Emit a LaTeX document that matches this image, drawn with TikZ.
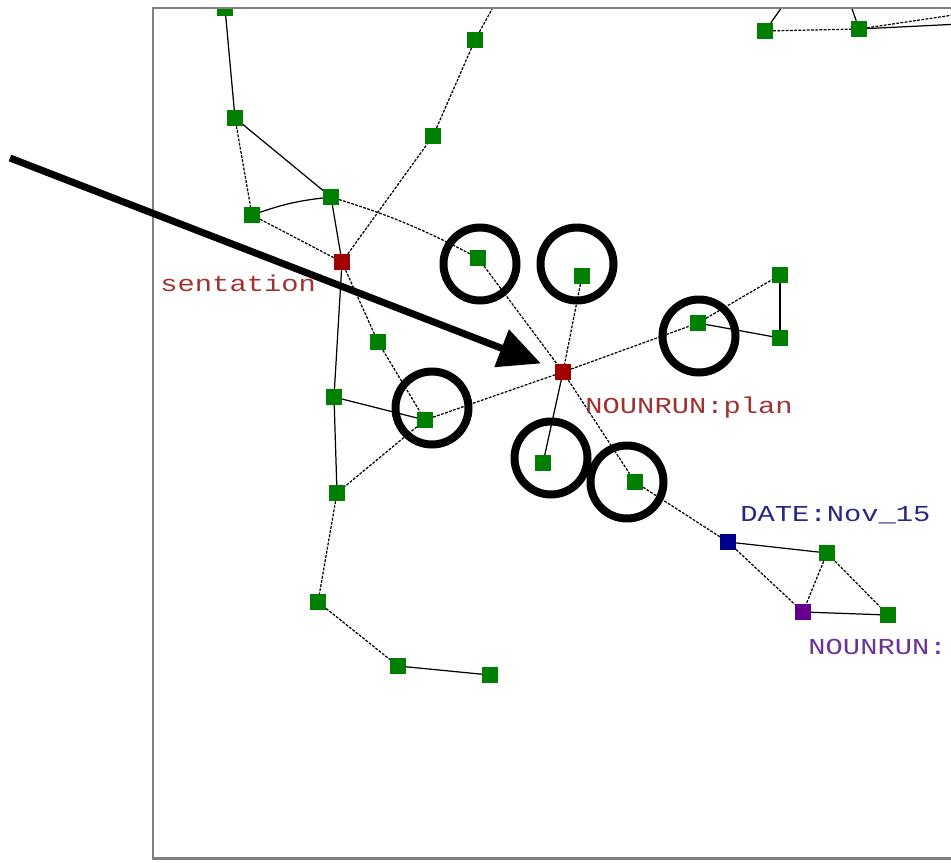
\documentclass[tikz,border=0pt]{standalone}
\usepackage{fontspec}
\setmonofont{Liberation Mono}
\usetikzlibrary{arrows.meta}
\definecolor{vgreen}{RGB}{0,128,0}
\definecolor{vred}{RGB}{160,0,0}
\definecolor{vblue}{RGB}{0,0,140}
\definecolor{vpurple}{RGB}{100,0,140}
\definecolor{tred}{RGB}{160,50,50}
\definecolor{tblue}{RGB}{40,40,130}
\definecolor{tpurple}{RGB}{110,50,150}

\begin{document}
\begin{tikzpicture}[x=0.02cm,y=-0.02cm,
  vert/.style={fill=vgreen,minimum size=0.31cm,inner sep=0pt},
  hub/.style={vert,fill=vred},
  ring/.style={draw,circle,line width=0.16cm,minimum size=1.46cm,inner sep=0pt},
  lnk/.style={line width=0.7pt},
  lnkd/.style={lnk,dash pattern=on 1.6pt off 0.8pt},
  lbl/.style={font=\ttfamily\fontsize{13}{15}\selectfont,xscale=1.26,anchor=west,inner sep=0pt}]
\useasboundingbox (0,0) rectangle (951,863);
\begin{scope}
\clip (153,8) rectangle (951,858);
\node[vert] (1)at(225,8){};
\node[vert] (2)at(235,118){};
\node[vert] (3)at(252,215){};
\node[vert] (4)at(331,197){};
\node[hub] (5)at(342,262){};
\node[vert] (6)at(433,136){};
\node[vert] (7)at(475,40){};
\node[vert] (8)at(478,258){};
\node[vert] (9)at(582,276){};
\node[hub] (10)at(563,372){};
\node[vert] (11)at(698,323){};
\node[vert] (12)at(780,275){};
\node[vert] (13)at(780,338){};
\node[vert] (14)at(378,342){};
\node[vert] (15)at(334,397){};
\node[vert] (16)at(425,420){};
\node[vert] (17)at(337,493){};
\node[vert] (18)at(318,602){};
\node[vert] (19)at(398,666){};
\node[vert] (20)at(490,675){};
\node[vert] (21)at(543,463){};
\node[vert] (22)at(635,482){};
\node[vert,fill=vblue] (23)at(728,542){};
\node[vert] (24)at(827,553){};
\node[vert,fill=vpurple] (25)at(803,612){};
\node[vert] (26)at(888,615){};
\node[vert] (27)at(765,31){};
\node[vert] (28)at(859,29){};
\coordinate (o1)at(497,0);
\coordinate (o2)at(787,0);
\coordinate (o3)at(849,0);
\coordinate (o4)at(960,14);
\coordinate (o5)at(960,24);
\draw[lnk] (1) to (2);
\draw[lnkd] (2) to (3);
\draw[lnk] (2) to (4);
\draw[lnk] (3) to[bend left=6] (4);
\draw[lnkd] (3) to (5);
\draw[lnk] (4) to (5);
\draw[lnkd] (4) to[bend left=5] (8);
\draw[lnkd] (5) to (6);
\draw[lnkd] (6) to (7);
\draw[lnkd] (7) to (o1);
\draw[lnkd] (5) to (14);
\draw[lnk] (5) to (15);
\draw[lnkd] (14) to (16);
\draw[lnk] (15) to (16);
\draw[lnk] (15) to (17);
\draw[lnkd] (16) to (17);
\draw[lnkd] (16) to (10);
\draw[lnkd] (17) to (18);
\draw[lnkd] (18) to (19);
\draw[lnk] (19) to (20);
\draw[lnkd] (8) to (10);
\draw[lnkd] (9) to (10);
\draw[lnkd] (10) to (11);
\draw[lnkd] (11) to (12);
\draw[lnk] (11) to (13);
\draw[lnk] (12) to (13);
\draw[lnk] (10) to (21);
\draw[lnkd] (10) to (22);
\draw[lnkd] (22) to (23);
\draw[lnk] (23) to (24);
\draw[lnkd] (23) to (25);
\draw[lnkd] (24) to (25);
\draw[lnkd] (24) to (26);
\draw[lnk] (25) to (26);
\draw[lnk] (27) to (o2);
\draw[lnkd] (27) to (28);
\draw[lnk] (28) to (o3);
\draw[lnkd] (28) to (o4);
\draw[lnk] (28) to (o5);
\node[lbl,text=tred] (l5)at(160,283){sentation};
\node[lbl,text=tred] (l10)at(585,408){NOUNRUN:plan};
\node[lbl,text=tblue] (l23)at(740,515){DATE:Nov\_15};
\node[lbl,text=tpurple] (l25)at(808,647){NOUNRUN:};
\end{scope}
\draw[gray,line width=1.7pt] (951,8) -- (153,8) -- (153,858) -- (951,858);
\node[ring] (c8)at(480,264){};
\node[ring] (c9)at(577,264){};
\node[ring] (c11)at(699,336){};
\node[ring] (c16)at(432,408){};
\node[ring] (c21)at(551,458){};
\node[ring] (c22)at(627,482){};
\coordinate (a0)at(10,158);
\draw[line width=4pt,-{Triangle[length=24pt,width=22pt]},shorten >=0.3cm] (a0) to (10);
\end{tikzpicture}
\end{document}
